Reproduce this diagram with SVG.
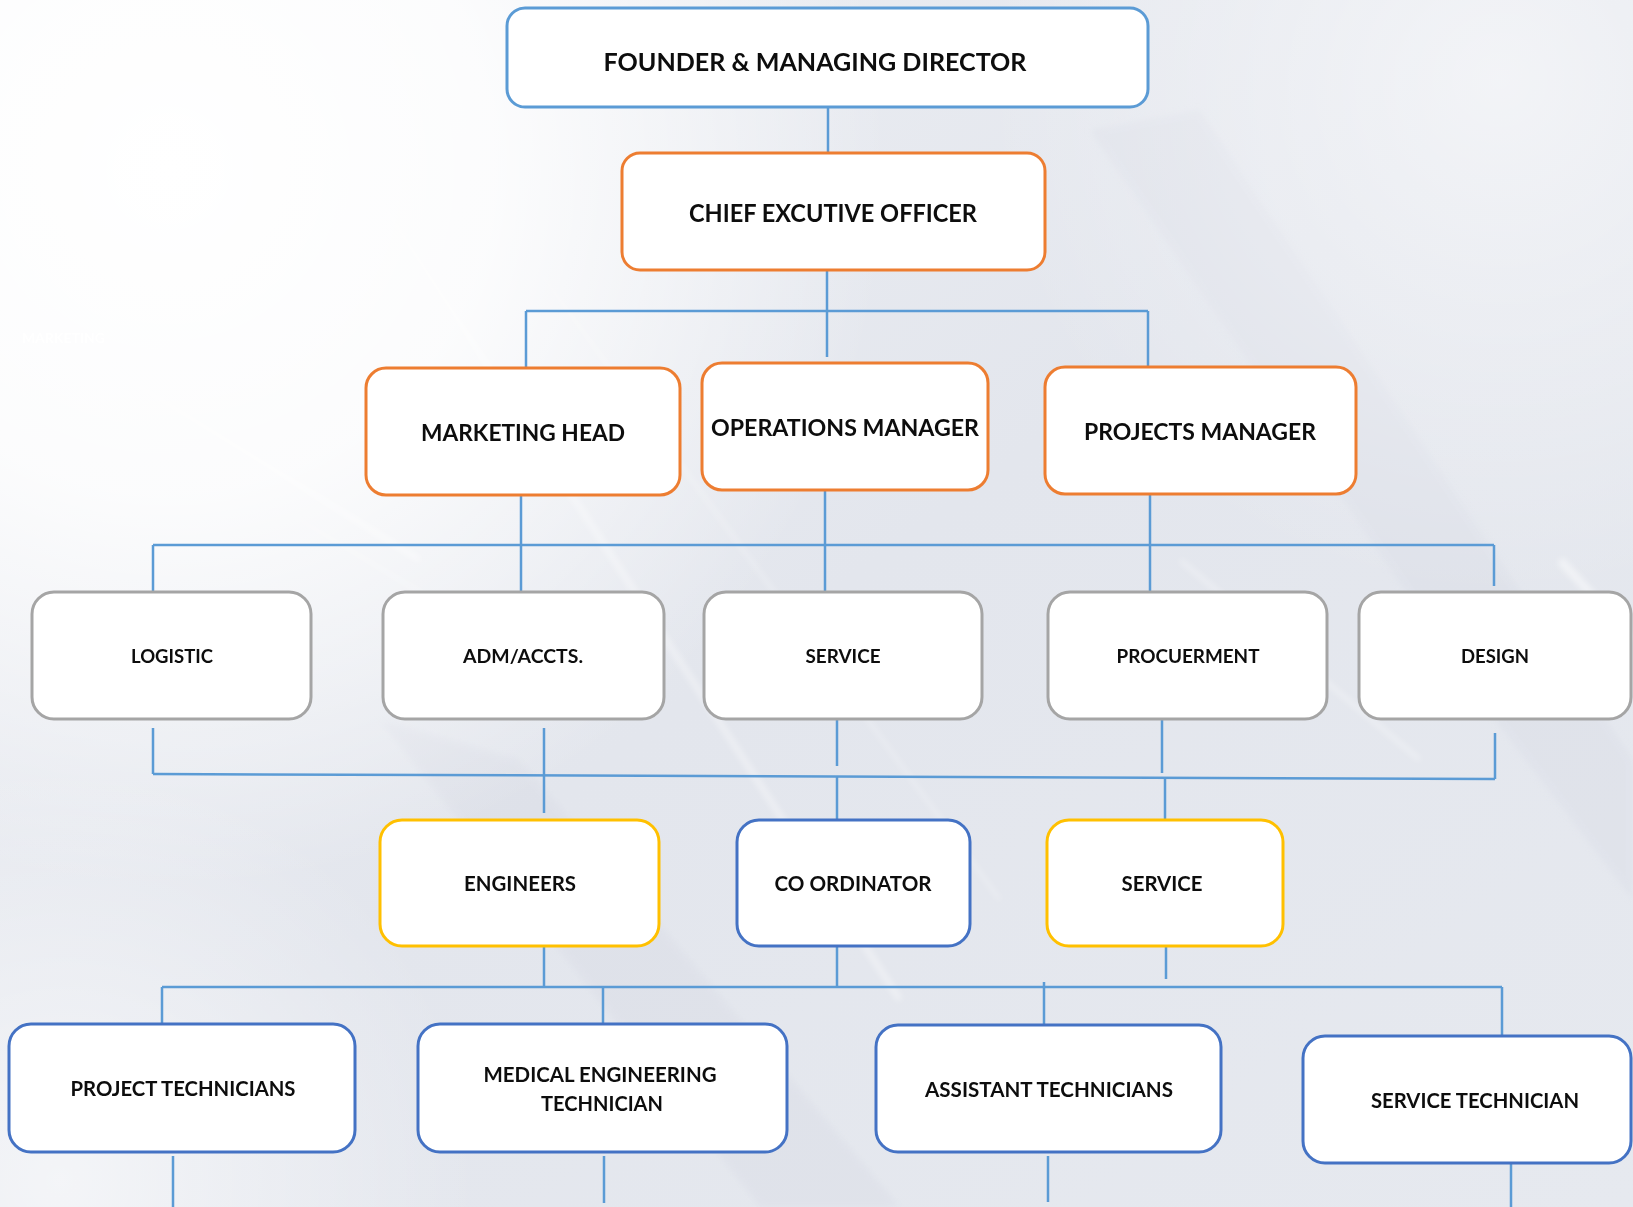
<svg xmlns="http://www.w3.org/2000/svg" width="1633" height="1207" viewBox="0 0 1633 1207">
  <defs>
    <linearGradient id="bg" x1="0" y1="0" x2="1" y2="1">
      <stop offset="0" stop-color="#EEF0F4"/>
      <stop offset="0.5" stop-color="#E3E6ED"/>
      <stop offset="1" stop-color="#E6E9EF"/>
    </linearGradient>
    <radialGradient id="glowTL" cx="170" cy="170" r="720" gradientUnits="userSpaceOnUse">
      <stop offset="0" stop-color="#FFFFFF" stop-opacity="1"/>
      <stop offset="0.45" stop-color="#FFFFFF" stop-opacity="0.85"/>
      <stop offset="1" stop-color="#FFFFFF" stop-opacity="0"/>
    </radialGradient>
    <radialGradient id="glowTR" cx="1500" cy="80" r="520" gradientUnits="userSpaceOnUse">
      <stop offset="0" stop-color="#FFFFFF" stop-opacity="0.55"/>
      <stop offset="1" stop-color="#FFFFFF" stop-opacity="0"/>
    </radialGradient>
    <radialGradient id="glowBL" cx="60" cy="1180" r="420" gradientUnits="userSpaceOnUse">
      <stop offset="0" stop-color="#FFFFFF" stop-opacity="0.6"/>
      <stop offset="1" stop-color="#FFFFFF" stop-opacity="0"/>
    </radialGradient>
    <filter id="soft" x="-10%" y="-10%" width="120%" height="120%">
      <feGaussianBlur stdDeviation="3"/>
    </filter>
    <style>
      .box { fill: #FFFFFF; stroke-width: 3; }
      .blue1 { stroke: #5B9BD5; }
      .orange { stroke: #ED7D31; }
      .gray { stroke: #A5A5A5; }
      .yellow { stroke: #FFC000; }
      .blue2 { stroke: #4472C4; }
      .lbl { font-family: Lato, "Open Sans", "Liberation Sans", sans-serif; font-weight: bold; fill: #0D0D0D; text-anchor: middle; }
      .conn line { stroke: #5B9BD5; stroke-width: 2.5; }
      .streak { stroke: #FFFFFF; fill: none; }
    </style>
  </defs>

  <g id="background">
    <rect x="0" y="0" width="1633" height="1207" fill="url(#bg)"/>
    <polygon points="1090,130 1200,110 1633,760 1633,900 1480,700" fill="#DCDFE8" opacity="0.5" filter="url(#soft)"/>
    <polygon points="380,720 520,760 900,1207 760,1207" fill="#DADDE6" opacity="0.45" filter="url(#soft)"/>
    <rect x="0" y="0" width="1633" height="1207" fill="url(#glowTL)"/>
    <rect x="0" y="0" width="1633" height="1207" fill="url(#glowTR)"/>
    <rect x="0" y="0" width="1633" height="1207" fill="url(#glowBL)"/>
    <g filter="url(#soft)">
      <line class="streak" x1="250" y1="0" x2="900" y2="1000" stroke-width="6" opacity="0.4"/>
      <line class="streak" x1="340" y1="0" x2="1000" y2="900" stroke-width="3" opacity="0.35"/>
      <line class="streak" x1="0" y1="300" x2="420" y2="560" stroke-width="5" opacity="0.5"/>
      <line class="streak" x1="0" y1="340" x2="600" y2="700" stroke-width="3" opacity="0.4"/>
      <line class="streak" x1="1180" y1="560" x2="1420" y2="760" stroke-width="4" opacity="0.4"/>
      <line class="streak" x1="1560" y1="560" x2="1633" y2="640" stroke-width="8" opacity="0.5"/>
    </g>
    <text x="105" y="343" font-family="Lato, 'Liberation Sans', sans-serif" font-weight="bold" font-size="14" fill="#FFFFFF" text-anchor="end" opacity="0.9">MARKETING</text>
  </g>

  <g id="connectors" class="conn">
    <line x1="828" y1="107" x2="828" y2="153"/>
    <line x1="827" y1="270" x2="827" y2="357"/>
    <line x1="526" y1="311" x2="1148" y2="311"/>
    <line x1="526" y1="311" x2="526" y2="368"/>
    <line x1="1148" y1="311" x2="1148" y2="374"/>
    <line x1="521" y1="495" x2="521" y2="592"/>
    <line x1="825" y1="486" x2="825" y2="592"/>
    <line x1="1150" y1="494" x2="1150" y2="592"/>
    <line x1="153" y1="545" x2="1494" y2="545"/>
    <line x1="153" y1="545" x2="153" y2="592"/>
    <line x1="1494" y1="545" x2="1494" y2="586"/>
    <line x1="153" y1="728" x2="153" y2="774"/>
    <line x1="544" y1="728" x2="544" y2="813"/>
    <line x1="837" y1="720" x2="837" y2="766"/>
    <line x1="837" y1="777" x2="837" y2="820"/>
    <line x1="1162" y1="720" x2="1162" y2="773"/>
    <line x1="1165" y1="777" x2="1165" y2="820"/>
    <line x1="1495" y1="733" x2="1495" y2="779"/>
    <line x1="153" y1="774" x2="1495" y2="779"/>
    <line x1="544" y1="946" x2="544" y2="986"/>
    <line x1="837" y1="946" x2="837" y2="986"/>
    <line x1="1166" y1="945" x2="1166" y2="979"/>
    <line x1="162" y1="987" x2="1502" y2="987"/>
    <line x1="162" y1="987" x2="162" y2="1029"/>
    <line x1="603" y1="987" x2="603" y2="1023"/>
    <line x1="1044" y1="982" x2="1044" y2="1025"/>
    <line x1="1502" y1="987" x2="1502" y2="1036"/>
    <line x1="173" y1="1156" x2="173" y2="1207"/>
    <line x1="604" y1="1156" x2="604" y2="1203"/>
    <line x1="1048" y1="1156" x2="1048" y2="1202"/>
    <line x1="1511" y1="1164" x2="1511" y2="1207"/>
  </g>

  <g id="founder">
    <rect class="box blue1" x="507" y="8" width="641" height="99" rx="18"/>
    <text class="lbl" x="815" y="71" font-size="24" textLength="423" lengthAdjust="spacingAndGlyphs">FOUNDER &amp; MANAGING DIRECTOR</text>
  </g>
  <g id="ceo">
    <rect class="box orange" x="622" y="153" width="423" height="117" rx="18"/>
    <text class="lbl" x="833" y="222" font-size="25" textLength="288" lengthAdjust="spacingAndGlyphs">CHIEF EXCUTIVE OFFICER</text>
  </g>
  <g id="marketing-head">
    <rect class="box orange" x="366" y="368" width="314" height="127" rx="20"/>
    <text class="lbl" x="523" y="441" font-size="23" textLength="204" lengthAdjust="spacingAndGlyphs">MARKETING HEAD</text>
  </g>
  <g id="operations-manager">
    <rect class="box orange" x="702" y="363" width="286" height="127" rx="20"/>
    <text class="lbl" x="845" y="436" font-size="23" textLength="268" lengthAdjust="spacingAndGlyphs">OPERATIONS MANAGER</text>
  </g>
  <g id="projects-manager">
    <rect class="box orange" x="1045" y="367" width="311" height="127" rx="20"/>
    <text class="lbl" x="1200" y="440" font-size="23" textLength="232" lengthAdjust="spacingAndGlyphs">PROJECTS MANAGER</text>
  </g>

  <g id="logistic">
    <rect class="box gray" x="32" y="592" width="279" height="127" rx="22"/>
    <text class="lbl" x="172" y="663" font-size="19.5" textLength="82" lengthAdjust="spacingAndGlyphs">LOGISTIC</text>
  </g>
  <g id="adm-accts">
    <rect class="box gray" x="383" y="592" width="281" height="127" rx="22"/>
    <text class="lbl" x="523" y="663" font-size="19.5" textLength="120" lengthAdjust="spacingAndGlyphs">ADM/ACCTS.</text>
  </g>
  <g id="service-dept">
    <rect class="box gray" x="704" y="592" width="278" height="127" rx="22"/>
    <text class="lbl" x="843" y="663" font-size="19.5" textLength="75" lengthAdjust="spacingAndGlyphs">SERVICE</text>
  </g>
  <g id="procurement">
    <rect class="box gray" x="1048" y="592" width="279" height="127" rx="22"/>
    <text class="lbl" x="1188" y="663" font-size="19.5" textLength="143" lengthAdjust="spacingAndGlyphs">PROCUERMENT</text>
  </g>
  <g id="design">
    <rect class="box gray" x="1359" y="592" width="272" height="127" rx="22"/>
    <text class="lbl" x="1495" y="663" font-size="19.5" textLength="68" lengthAdjust="spacingAndGlyphs">DESIGN</text>
  </g>

  <g id="engineers">
    <rect class="box yellow" x="380" y="820" width="279" height="126" rx="22"/>
    <text class="lbl" x="520" y="891" font-size="21" textLength="112" lengthAdjust="spacingAndGlyphs">ENGINEERS</text>
  </g>
  <g id="coordinator">
    <rect class="box blue2" x="737" y="820" width="233" height="126" rx="22"/>
    <text class="lbl" x="853" y="891" font-size="21" textLength="157" lengthAdjust="spacingAndGlyphs">CO ORDINATOR</text>
  </g>
  <g id="service-unit">
    <rect class="box yellow" x="1047" y="820" width="236" height="126" rx="22"/>
    <text class="lbl" x="1162" y="891" font-size="21" textLength="81" lengthAdjust="spacingAndGlyphs">SERVICE</text>
  </g>

  <g id="project-technicians">
    <rect class="box blue2" x="9" y="1024" width="346" height="128" rx="22"/>
    <text class="lbl" x="183" y="1096" font-size="20" textLength="225" lengthAdjust="spacingAndGlyphs">PROJECT TECHNICIANS</text>
  </g>
  <g id="medical-engineering-technician">
    <rect class="box blue2" x="418" y="1024" width="369" height="128" rx="22"/>
    <text class="lbl" x="600" y="1082" font-size="20" textLength="233" lengthAdjust="spacingAndGlyphs">MEDICAL ENGINEERING</text>
    <text class="lbl" x="602" y="1111" font-size="20" textLength="122" lengthAdjust="spacingAndGlyphs">TECHNICIAN</text>
  </g>
  <g id="assistant-technicians">
    <rect class="box blue2" x="876" y="1025" width="345" height="127" rx="22"/>
    <text class="lbl" x="1049" y="1097" font-size="20" textLength="248" lengthAdjust="spacingAndGlyphs">ASSISTANT TECHNICIANS</text>
  </g>
  <g id="service-technician">
    <rect class="box blue2" x="1303" y="1036" width="328" height="127" rx="22"/>
    <text class="lbl" x="1475" y="1108" font-size="20" textLength="208" lengthAdjust="spacingAndGlyphs">SERVICE TECHNICIAN</text>
  </g>
</svg>
